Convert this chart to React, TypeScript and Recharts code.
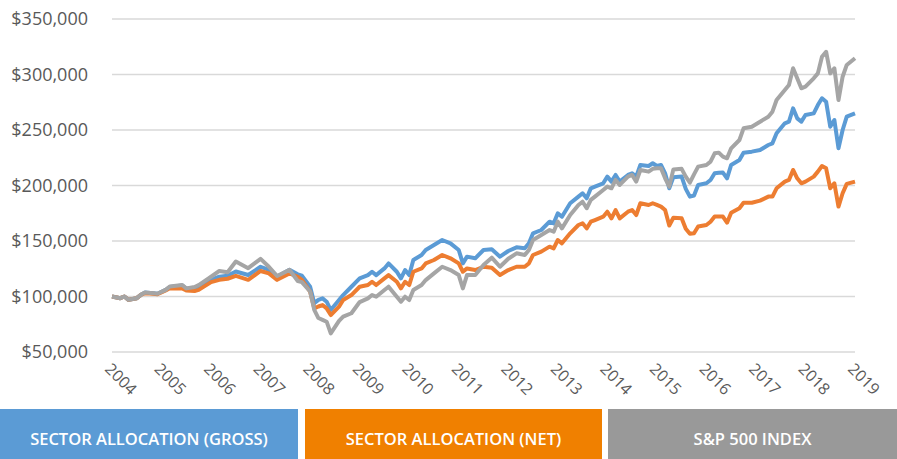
import React from 'react';
import { LineChart, Line, XAxis, YAxis, CartesianGrid } from 'recharts';

// month index since Dec 2003 (0 = start, 180 = Dec 2018)
const months = [0, 2, 3, 4, 6, 7, 8, 10, 11, 13, 14, 17, 18, 20, 21, 24, 26, 28, 30, 33, 36, 38, 40, 43, 45, 46, 48, 49, 50, 51, 52, 53, 55, 56, 58, 60, 62, 63, 64, 66, 67, 69, 70, 71, 72, 73, 75, 76, 78, 80, 82, 84, 85, 86, 88, 90, 92, 94, 96, 98, 100, 101, 102, 104, 106, 107, 108, 109, 111, 113, 114, 115, 116, 117, 119, 120, 121, 122, 123, 125, 126, 127, 128, 130, 131, 132, 133, 134, 135, 136, 138, 139, 140, 141, 142, 144, 145, 146, 147, 148, 149, 150, 152, 153, 155, 157, 159, 160, 161, 163, 164, 165, 166, 167, 168, 170, 171, 172, 173, 174, 175, 176, 177, 178, 180];

const gross = [100000, 98500, 100000, 97000, 98500, 101500, 103600, 103000, 102500, 106000, 108500, 110000, 107000, 108000, 109000, 115000, 117800, 118700, 122500, 119400, 126800, 124000, 117800, 124000, 120000, 118700, 108800, 94000, 97000, 98300, 95300, 87800, 96800, 101300, 108800, 116300, 119300, 122300, 119300, 125300, 129800, 122300, 116300, 123800, 119300, 132900, 137400, 141900, 146400, 150900, 147900, 141900, 129800, 135900, 134400, 141900, 142500, 135900, 141000, 144300, 143400, 147900, 156900, 159900, 167400, 165900, 174900, 171900, 184000, 190000, 193000, 188500, 197500, 199000, 202000, 208000, 203500, 209500, 203500, 209500, 211000, 208000, 218500, 217600, 220000, 217600, 218500, 211000, 197500, 207500, 208000, 197000, 190000, 191000, 200500, 202000, 205000, 211000, 211500, 211600, 206500, 218500, 223000, 229600, 230500, 232000, 236500, 238000, 247000, 256000, 257500, 269500, 260500, 257500, 263500, 265000, 272500, 278600, 275500, 253000, 259000, 233500, 250000, 262000, 265000];

const net = [100000, 98500, 100000, 97000, 98500, 101500, 103000, 102500, 102000, 105500, 107500, 107300, 105500, 105000, 106000, 113000, 115000, 116000, 118500, 115000, 123000, 120800, 115000, 120800, 117800, 115000, 104300, 89300, 91000, 92300, 89300, 83300, 90800, 96800, 101300, 108800, 110300, 113300, 110300, 116300, 119300, 113300, 107300, 113300, 110300, 122300, 125300, 129800, 132900, 137400, 134400, 129800, 122300, 125300, 123800, 126800, 126000, 119300, 123800, 126800, 126800, 129800, 137400, 140400, 144900, 143400, 150900, 147900, 156900, 164400, 165900, 161400, 167400, 168900, 171900, 176400, 170400, 177900, 170400, 176400, 177900, 173400, 184000, 182400, 184000, 182500, 181000, 177900, 164000, 171000, 170400, 161000, 156500, 157000, 163000, 164400, 167400, 172000, 172000, 172000, 166500, 175500, 179500, 184500, 184500, 186400, 190000, 190000, 197500, 203500, 205000, 214000, 206500, 202000, 203500, 208000, 212500, 217600, 215500, 197500, 202000, 181000, 193000, 201500, 203500];

const sp500 = [100000, 98500, 100000, 97000, 98500, 101500, 103600, 103000, 102500, 106000, 109000, 110300, 107300, 108500, 110300, 117800, 123000, 121800, 131500, 125500, 133900, 126800, 118500, 124000, 114000, 113000, 104500, 88000, 80600, 79000, 77300, 66800, 78000, 81800, 84900, 95000, 98300, 101300, 99800, 105800, 108800, 99800, 95300, 99800, 96800, 105800, 110300, 114800, 120800, 126800, 123800, 119300, 107300, 119300, 119300, 128300, 135000, 126800, 134000, 138900, 137400, 141900, 150900, 155400, 159900, 158400, 167400, 161400, 173400, 182400, 185400, 179500, 187000, 190000, 196000, 199000, 197500, 205000, 200500, 208000, 209500, 203500, 214000, 212500, 215000, 215500, 215500, 206500, 199000, 214500, 215000, 208000, 202500, 210000, 217000, 218500, 221500, 229000, 229600, 226000, 224500, 233500, 241000, 251500, 253000, 257500, 262000, 266500, 277000, 286000, 290500, 305600, 296600, 287600, 289000, 296600, 301000, 316000, 320500, 301000, 305600, 277000, 298000, 308600, 314600];

const yearTicks = [0, 12, 24, 36, 48, 60, 72, 84, 96, 108, 120, 132, 144, 156, 168, 180];
const yearLabels = ['2004', '2005', '2006', '2007', '2008', '2009', '2010', '2011', '2012', '2013', '2014', '2015', '2016', '2017', '2018', '2019'];
const valueTicks = [50000, 100000, 150000, 200000, 250000, 300000, 350000];

const seriesNames = ['SECTOR ALLOCATION (GROSS)', 'SECTOR ALLOCATION (NET)', 'S&P 500 INDEX'];
const lineColors = ['#5b9bd5', '#ed7d31', '#a5a5a5'];
const boxColors = ['#5b9bd5', '#f08000', '#999999'];

const data = months.map((m, i) => ({ m, gross: gross[i], net: net[i], sp500: sp500[i] }));

const FONT = '"Open Sans", "Noto Sans", sans-serif';

const XTick = (props: any) => {
  const { x, y, payload } = props;
  const idx = yearTicks.indexOf(payload.value);
  const ax = x - 8;
  const ay = y + 18;
  return (
    <text
      x={ax}
      y={ay}
      transform={`rotate(45, ${ax}, ${ay})`}
      textAnchor="start"
      fontSize={16}
      fill="#595959"
      fontFamily={FONT}
    >
      {idx >= 0 ? yearLabels[idx] : ''}
    </text>
  );
};

const fmt = (v: number) => '$' + v.toLocaleString('en-US');

export default function App() {
  const boxes = [
    { left: 0, width: 298 },
    { left: 305, width: 297 },
    { left: 608, width: 289 },
  ];
  return (
    <div style={{ position: 'absolute', left: 0, top: 0, width: 897, height: 459, background: '#fff', overflow: 'hidden' }}>
      <LineChart width={897} height={459} data={data} margin={{ top: 19, right: 42, left: 0, bottom: 0 }}>
        <CartesianGrid vertical={false} stroke="#d9d9d9" strokeWidth={1.3} />
        <XAxis
          dataKey="m"
          type="number"
          domain={[0, 180]}
          ticks={yearTicks}
          tick={<XTick />}
          tickLine={false}
          axisLine={false}
          tickSize={0}
          tickMargin={0}
          height={107}
          interval={0}
        />
        <YAxis
          domain={[50000, 350000]}
          ticks={valueTicks}
          tickFormatter={fmt}
          tick={{ fontSize: 18, fill: '#595959', fontFamily: FONT }}
          tickLine={false}
          axisLine={false}
          tickSize={0}
          tickMargin={24}
          width={112}
          interval={0}
        />
        <Line type="linear" dataKey="gross" stroke={lineColors[0]} strokeWidth={4} dot={false} isAnimationActive={false} strokeLinejoin="round" />
        <Line type="linear" dataKey="net" stroke={lineColors[1]} strokeWidth={4} dot={false} isAnimationActive={false} strokeLinejoin="round" />
        <Line type="linear" dataKey="sp500" stroke={lineColors[2]} strokeWidth={4} dot={false} isAnimationActive={false} strokeLinejoin="round" />
      </LineChart>
      {seriesNames.map((name, i) => (
        <div
          key={name}
          style={{
            position: 'absolute',
            top: 409,
            left: boxes[i].left,
            width: boxes[i].width,
            height: 50,
            paddingTop: 8,
            boxSizing: 'border-box',
            background: boxColors[i],
            color: '#fff',
            display: 'flex',
            alignItems: 'center',
            justifyContent: 'center',
            fontFamily: FONT,
            fontWeight: 600,
            fontSize: 16.5,
          }}
        >
          {name}
        </div>
      ))}
    </div>
  );
}
